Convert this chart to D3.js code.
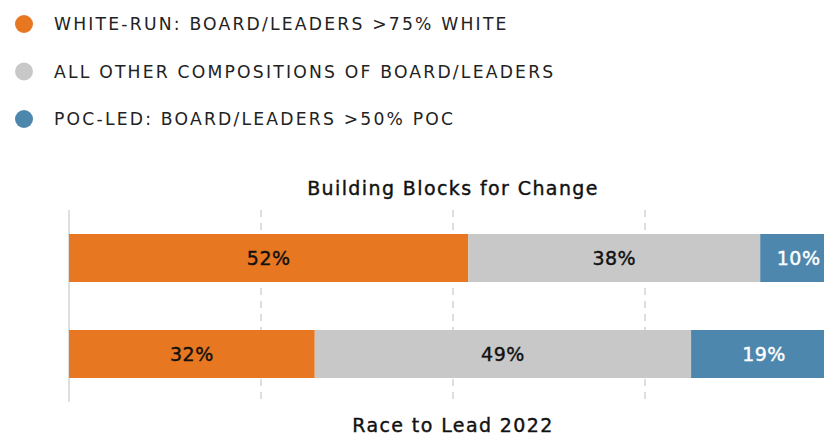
<!DOCTYPE html>
<html>
<head>
<meta charset="utf-8">
<script src="https://cdn.jsdelivr.net/npm/d3@7"></script>
<style>
  body { margin: 0; background: #fff; }
  svg { display: block; font-family: "DejaVu Sans", "Noto Sans", sans-serif; }
</style>
</head>
<body>
<svg id="chart" width="824" height="437"></svg>
<script>
// data
var series = ["WHITE-RUN: BOARD/LEADERS >75% WHITE", "ALL OTHER COMPOSITIONS OF BOARD/LEADERS", "POC-LED: BOARD/LEADERS >50% POC"];
var colors = ["#e87722", "#c8c8c8", "#4e87ad"];
var labelColors = ["#111", "#111", "#fff"];
var surveys = ["Building Blocks for Change", "Race to Lead 2022"];
var whiteRun = [52, 32];
var allOther = [38, 49];
var pocLed = [10, 19];
var gridTicks = [25, 50, 75];

function draw() {
	var svg = d3.select("#chart");

	// legend
	var leg = svg.append("g").selectAll("g")
		.data(series)
		.enter().append("g")
		.attr("transform", function(d, i) { return "translate(0," + (24 + i * 47.5) + ")"; });
	leg.append("circle")
		.attr("cx", 24).attr("r", 9)
		.attr("fill", function(d, i) { return colors[i]; });
	leg.append("text")
		.attr("x", 54).attr("dy", "0.36em")
		.attr("font-size", 17.2)
		.attr("letter-spacing", "2.2px")
		.attr("fill", "#222")
		.text(function(d) { return d; });

	var x = d3.scaleLinear().domain([0, 100]).range([69, 837]);
	var y = d3.scaleBand().domain(surveys).range([210, 402]).paddingInner(0.5).paddingOuter(0.25);

	// grid
	svg.append("g").selectAll("line")
		.data(gridTicks)
		.enter().append("line")
		.attr("x1", function(d) { return x(d); })
		.attr("x2", function(d) { return x(d); })
		.attr("y1", 210).attr("y2", 402)
		.attr("stroke", "#d4d4d4")
		.attr("stroke-width", 1.5)
		.attr("stroke-dasharray", "7,6");
	svg.append("line")
		.attr("x1", x(0)).attr("x2", x(0))
		.attr("y1", 210).attr("y2", 402)
		.attr("stroke", "#d4d4d4")
		.attr("stroke-width", 1.5);

	var rows = surveys.map(function(s, i) {
		return { name: s, vals: [whiteRun[i], allOther[i], pocLed[i]] };
	});

	var row = svg.append("g").selectAll("g")
		.data(rows)
		.enter().append("g");

	row.each(function(r) {
		var g = d3.select(this), start = 0;
		r.vals.forEach(function(v, k) {
			g.append("rect")
				.attr("x", x(start))
				.attr("y", y(r.name))
				.attr("width", x(start + v) - x(start))
				.attr("height", y.bandwidth())
				.attr("fill", colors[k]);
			g.append("text")
				.attr("x", (x(start) + x(start + v)) / 2)
				.attr("y", y(r.name) + y.bandwidth() / 2)
				.attr("dy", "0.36em")
				.attr("text-anchor", "middle")
				.attr("font-size", 19)
				.attr("letter-spacing", "0.5px")
				.attr("fill", labelColors[k])
				.attr("stroke", labelColors[k])
				.attr("stroke-width", 0.4)
				.text(v + "%");
			start += v;
		});
	});

	// titles
	[[surveys[0], 195], [surveys[1], 432]].forEach(function(t) {
		svg.append("text")
			.attr("x", x(50)).attr("y", t[1])
			.attr("text-anchor", "middle")
			.attr("font-size", 19)
			.attr("letter-spacing", "1.4px")
			.attr("fill", "#111")
			.attr("stroke", "#111")
			.attr("stroke-width", 0.4)
			.text(t[0]);
	});
}

draw();
</script>
</body>
</html>
